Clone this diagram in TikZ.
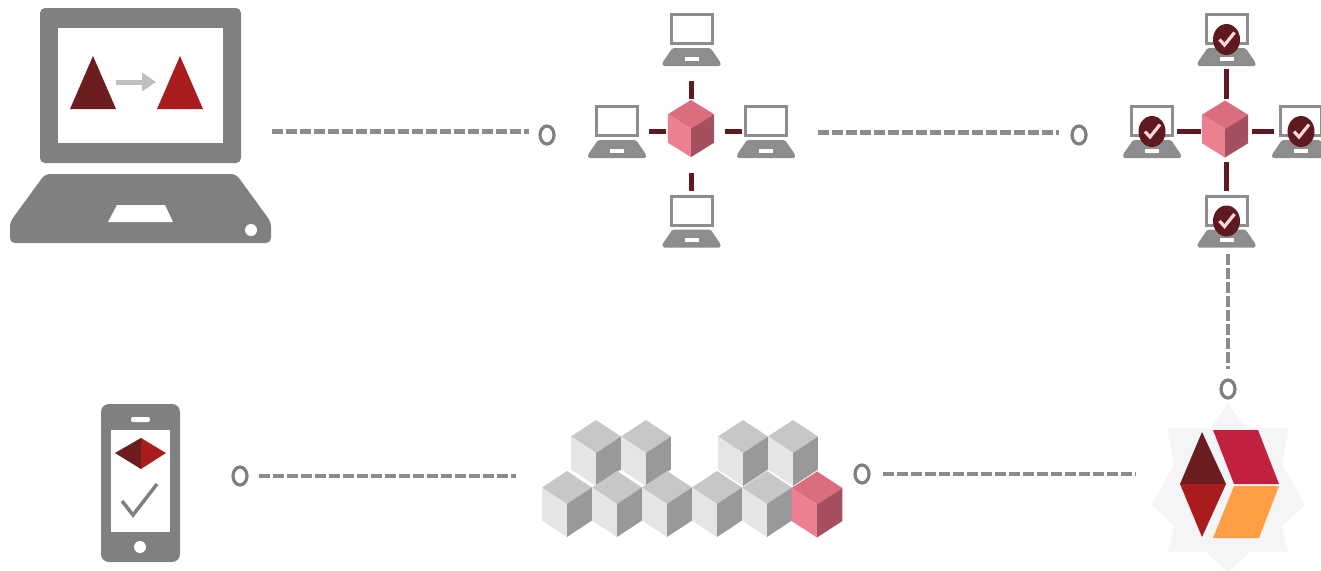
\documentclass[tikz,border=0pt]{standalone}
\usetikzlibrary{arrows.meta,shapes.geometric}
\definecolor{icongray}{HTML}{808080}
\definecolor{linegray}{HTML}{8C8C8C}
\definecolor{wine}{HTML}{5E1A20}
\definecolor{darkred}{HTML}{6B1D1F}
\definecolor{brightred}{HTML}{A81C1E}
\definecolor{crimson}{HTML}{C2203F}
\definecolor{amber}{HTML}{FF9F45}
\definecolor{starback}{HTML}{F4F5F6}
\definecolor{pinktop}{HTML}{DB6E7E}
\definecolor{pinkleft}{HTML}{EC8090}
\definecolor{pinkright}{HTML}{A5505E}
\tikzset{
    ring node/.style={ellipse,draw=icongray,fill=white,line width=3.2,inner sep=0,minimum width=14,minimum height=18},
    laptop node/.style={inner sep=0,minimum width=58,minimum height=53},
    hub node/.style={inner sep=0,minimum width=46,minimum height=57},
    dash line/.style={draw=linegray,line width=#1,dash pattern=on 11 off 3},
    spoke/.style={draw=wine,line width=4.5},
    pics/cubeicon/.style n args={3}{code={
        \fill[#1] (0,-33) -- (24,-16.5) -- (0,0) -- (-24,-16.5) -- cycle;
        \fill[#2] (-24,-16.5) -- (0,0) -- (0,33) -- (-24,16.5) -- cycle;
        \fill[#3] (24,-16.5) -- (0,0) -- (0,33) -- (24,16.5) -- cycle;
    }},
    pics/smalllaptop/.style={code={
        \draw[icongray!90!white,line width=3] (-20.5,-25) rectangle (20.5,4);
        \fill[icongray!90!white,rounded corners=1.5] (-19,8.5) -- (19,8.5) -- (29,23) -- (29,26.5) -- (-29,26.5) -- (-29,23) -- cycle;
        \fill[white] (-7,17) rectangle (7,21);
    }},
    pics/checkbadge/.style={code={
        \fill[wine] (0,0) ellipse [x radius=13.5,y radius=15.5];
        \draw[white!85!red,line width=3.2] (-7,0) -- (-2,5.5) -- (8,-7);
    }}
}
\begin{document}
\begin{tikzpicture}[x=1pt,y=-1pt]
    \useasboundingbox (0,0) rectangle (1321,570);
    % desktop
    \node(bigLaptop)[inner sep=0,minimum width=261,minimum height=235] at (140.5,125.5){};
    \fill[icongray,rounded corners=5] (40,8) rectangle (241,163);
    \fill[white] (58,28) rectangle (223,143);
    \fill[darkred] (93,56) -- (116,109) -- (70,109) -- cycle;
    \fill[brightred] (180,56) -- (203,109) -- (157,109) -- cycle;
    \coordinate (arrowFrom) at (116,82);
    \coordinate (arrowTo) at (156,82);
    \draw[draw=black!25,line width=5,-{Triangle[length=14,width=18]}] (arrowFrom) -- (arrowTo);
    \fill[icongray,rounded corners=5] (45,174) -- (236,174) -- (271,222) -- (271,243) -- (10,243) -- (10,222) -- cycle;
    \fill[white] (117,205) -- (165,205) -- (173,222) -- (108,222) -- cycle;
    \fill[white] (251,230) circle (6);

    % first network
    \node(lapTopA)[laptop node] at (691.5,39.5){};
    \node(lapLeftA)[laptop node] at (617,131.5){};
    \node(lapRightA)[laptop node] at (766,131.5){};
    \node(lapBotA)[laptop node] at (691.5,221){};
    \node(hubA)[hub node] at (691,128.5){};
    \foreach \lap in {lapTopA,lapLeftA,lapRightA,lapBotA}
        \pic at (\lap) {smalllaptop};
    \pic[xscale=.96,yscale=.864] at (hubA) {cubeicon={pinktop}{pinkleft}{pinkright}};
    \draw[spoke,shorten <=15,shorten >=1] (lapTopA.south) -- (lapTopA.south |- hubA.north);
    \draw[spoke,shorten <=3,shorten >=2] (lapLeftA.east) -- (lapLeftA.east -| hubA.west);
    \draw[spoke,shorten <=11,shorten >=-5] (lapRightA.west -| hubA.east) -- (lapRightA.west);
    \draw[spoke,shorten <=16,shorten >=3] (lapBotA.north |- hubA.south) -- (lapBotA.north);

    % second network
    \node(lapTopB)[laptop node] at (1226.5,39.5){};
    \node(lapLeftB)[laptop node] at (1152,131.5){};
    \node(lapRightB)[laptop node] at (1301,131.5){};
    \node(lapBotB)[laptop node] at (1226.5,221){};
    \node(hubB)[hub node] at (1225,129){};
    \foreach \lap in {lapTopB,lapLeftB,lapRightB,lapBotB}{
        \pic at (\lap) {smalllaptop};
        \pic at (\lap) {checkbadge};
    }
    \pic[xscale=.96,yscale=.864] at (hubB) {cubeicon={pinktop}{pinkleft}{pinkright}};
    \draw[spoke,shorten <=3,shorten >=1] (lapTopB.south) -- (lapTopB.south |- hubB.north);
    \draw[spoke,shorten <=-4,shorten >=1] (lapLeftB.east) -- (lapLeftB.east -| hubB.west);
    \draw[spoke,shorten <=4,shorten >=-2] (lapRightB.west -| hubB.east) -- (lapRightB.west);
    \draw[spoke,shorten <=4,shorten >=3] (lapBotB.north |- hubB.south) -- (lapBotB.north);

    % swift style logo
    \node(logo)[inner sep=0,minimum width=154,minimum height=165] at (1228,487.5){};
    \fill[starback] (1228,403) -- (1246,428) -- (1289,428) -- (1282,464) -- (1305,505) -- (1282,526) -- (1288,552) -- (1250,552) -- (1228,572)
        -- (1206,552) -- (1168,552) -- (1174,526) -- (1152,505) -- (1174,464) -- (1167,428) -- (1210,428) -- cycle;
    \fill[darkred] (1202,432) -- (1226,484) -- (1180,484) -- cycle;
    \fill[brightred] (1180,484) -- (1226,484) -- (1202,537) -- cycle;
    \fill[crimson] (1213,430) -- (1258,430) -- (1279,484) -- (1234,484) -- cycle;
    \fill[amber] (1234,486) -- (1279,486) -- (1259,538) -- (1213,538) -- cycle;

    % block store
    \node(blocks)[inner sep=0,minimum width=300,minimum height=117] at (693,478.5){};
    \foreach \cx in {596,646,743,793}
        \pic[xscale=1.04] at (\cx,453) {cubeicon={black!22}{black!10}{black!40}};
    \foreach \cx in {567,617,667,717,767}
        \pic[xscale=1.04] at (\cx,504) {cubeicon={black!22}{black!10}{black!40}};
    \pic[xscale=1.06] at (817,504.5) {cubeicon={pinktop}{pinkleft}{pinkright}};

    % phone
    \node(phone)[inner sep=0,minimum width=79,minimum height=158] at (140.5,483){};
    \fill[icongray,rounded corners=8] (101,404) rectangle (180,562);
    \fill[white] (111,430) rectangle (170,532);
    \fill[white,rounded corners=2] (131,417) rectangle (150,422);
    \fill[white] (140,547) circle (6);
    \fill[darkred] (115,453) -- (141,438) -- (141,469) -- cycle;
    \fill[brightred] (166,453) -- (141,438) -- (141,469) -- cycle;
    \draw[icongray,line width=3.5] (122,501) -- (133,515) -- (157,484);

    % rings and dashed links
    \node(ringA)[ring node] at (547,135){};
    \node(ringB)[ring node] at (1079,135){};
    \node(ringC)[ring node] at (1228,389){};
    \node(ringD)[ring node] at (862,474){};
    \node(ringE)[ring node] at (240,476){};
    \coordinate (startA) at (272,131);
    \coordinate (startB) at (818,132);
    \draw[dash line=5,shorten >=9] (startA) -- (startA -| ringA.west);
    \draw[dash line=5,shorten >=11] (startB) -- (startB -| ringB.west);
    \draw[dash line=3.5,shorten <=6,shorten >=9] (ringC |- lapBotB.south) -- (ringC.north);
    \draw[dash line=3.5,shorten <=12,shorten >=16] (ringD.east) -- (ringD.east -| logo.west);
    \draw[dash line=3.5,shorten <=10,shorten >=27] (ringE.east) -- (ringE.east -| blocks.west);
\end{tikzpicture}
\end{document}
